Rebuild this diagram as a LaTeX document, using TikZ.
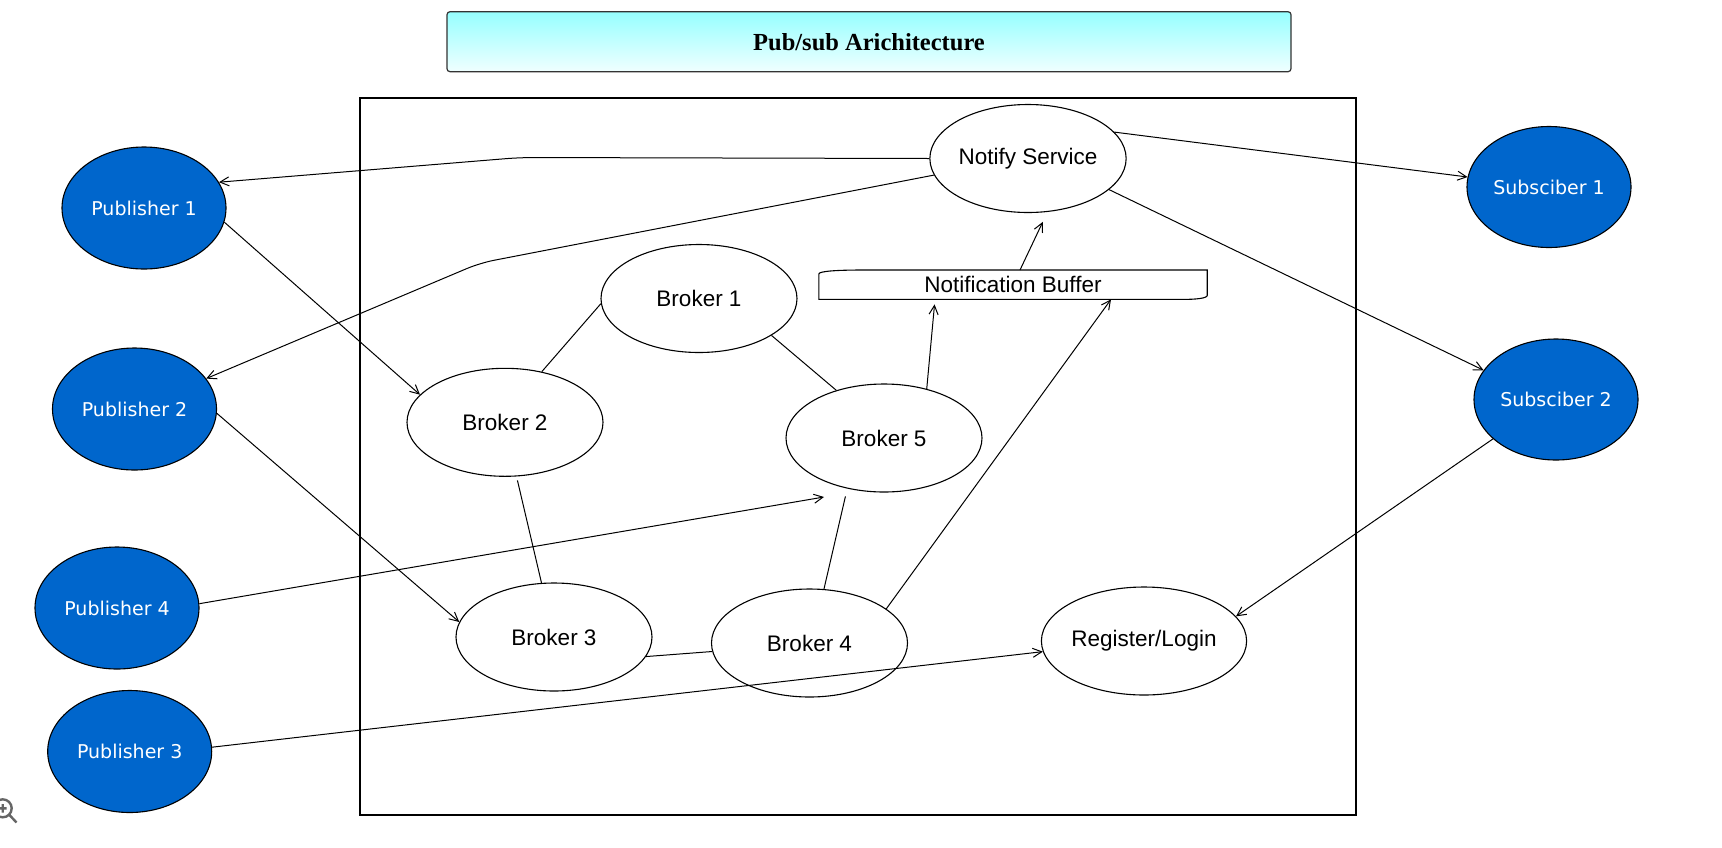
\documentclass[tikz,border=0pt]{standalone}
\usepackage{fontspec}
\setmainfont{Liberation Sans}
\newfontfamily\titlefont{Liberation Serif}
\newfontfamily\actorfont{DejaVu Sans}
\usetikzlibrary{shapes.geometric,arrows.meta}
\definecolor{actorblue}{HTML}{0066CC}
\definecolor{titletop}{RGB}{150,255,255}
\definecolor{titlebottom}{RGB}{240,255,255}

\begin{document}
\begin{tikzpicture}[x=1pt,y=-1pt,
  part/.style={ellipse,draw,line width=1.1pt,inner sep=0pt,minimum width=196pt,minimum height=108pt,font=\fontsize{22.5}{26}\selectfont},
  actor/.style={ellipse,draw,line width=1.1pt,inner sep=0pt,fill=actorblue,text=white,minimum width=164pt,minimum height=122pt,font=\actorfont\fontsize{19}{22}\selectfont},
  arr/.style={line width=1pt,-{Straight Barb[length=9pt,width=9pt]}},
  link/.style={line width=1pt}]
\useasboundingbox (0,0) rectangle (1722,847);

\node[draw=black!80,line width=1.2pt,rounded corners=3pt,top color=titletop,bottom color=titlebottom,
  minimum width=844pt,minimum height=60pt] (title) at (869,41.7)
  {\titlefont\bfseries\fontsize{24.5}{28}\selectfont Pub/sub Arichitecture};

\draw[line width=1.2pt] (360,98) rectangle (1356,815); %system frame

\node[part] (notify) at (1028,158.5) {Notify Service};
\node[part] (broker1) at (699,298.5) {Broker 1};
\node[part] (broker2) at (505,422.3) {Broker 2};
\node[part] (broker5) at (884,438) {Broker 5};
\node[part] (broker3) at (554,637) {Broker 3};
\node[part] (broker4) at (809.5,643) {Broker 4};
\node[part] (login) at (1144,641) {Register/Login};
\node[inner sep=0pt,minimum width=388pt,minimum height=29pt,font=\fontsize{22.5}{26}\selectfont] (buffer) at (1013,284.7) {Notification Buffer};
\draw[line width=1.1pt] (buffer.south west) -- ([yshift=-4pt]buffer.north west)
  .. controls ([yshift=-1pt]buffer.north west) and ([xshift=20pt]buffer.north west) .. ([xshift=45pt]buffer.north west)
  -- (buffer.north east) -- ([yshift=4pt]buffer.south east)
  .. controls ([yshift=1pt]buffer.south east) and ([xshift=-12pt]buffer.south east) .. ([xshift=-24pt]buffer.south east)
  -- cycle;

\node[actor] (pub1) at (144,208) {Publisher 1};
\node[actor] (pub2) at (134.5,409) {Publisher 2};
\node[actor] (pub4) at (117,608) {Publisher 4};
\node[actor] (pub3) at (129.7,751.5) {Publisher 3};
\node[actor,minimum height=121pt] (sub1) at (1549,187) {Subsciber 1};
\node[actor,minimum height=121pt] (sub2) at (1556,399.5) {Subsciber 2};

\coordinate (bendA) at (520,157.5);
\coordinate (bendB) at (480,263);
\coordinate (b5tip) at ([shift={(-60,59)}]broker5.center);

% notifications out
\draw[arr,rounded corners=14pt] (notify.west) -- (bendA) -- (pub1.19);
\draw[arr,rounded corners=14pt] (notify.190) -- (bendB) -- (pub2.23);
\draw[arr] (notify.17) -- (sub1.173);
\draw[arr] (notify.-21) -- (sub2.158);
\draw[arr,shorten >=11pt] ([xshift=7pt]buffer.north) -- (notify.-70);
\draw[arr,shorten >=5pt] (broker5.49) -- ([xshift=-78pt]buffer.south);
\draw[arr] (broker4.24) -- ([xshift=98pt]buffer.south);

% broker links
\draw[link] (broker2.54) -- (broker1.183);
\draw[link] (broker1.-27) -- (broker5.135);
\draw[link,shorten <=4pt] (broker2.-78) -- (broker3.103);
\draw[link] (broker3.-12) -- (broker4.185);
\draw[link,shorten <=8pt] (broker5.-126) -- (broker4.75);

% publishers and subscribers in
\draw[arr] (pub1.-10) -- (broker2.162);
\draw[arr] (pub2.-3) -- (broker3.171);
\draw[arr] (pub4.3) -- (b5tip);
\draw[arr] (pub3.3) -- (login.186);
\draw[arr] (sub2.212) -- (login.15);

% zoom icon
\draw[black!60,line width=2.4pt] (2.7,808.3) circle[radius=9pt] (9.5,815) -- (16.5,822.5)
  (-2,808.3) -- (6.5,808.3) (2.7,804) -- (2.7,812.5);
\end{tikzpicture}
\end{document}
